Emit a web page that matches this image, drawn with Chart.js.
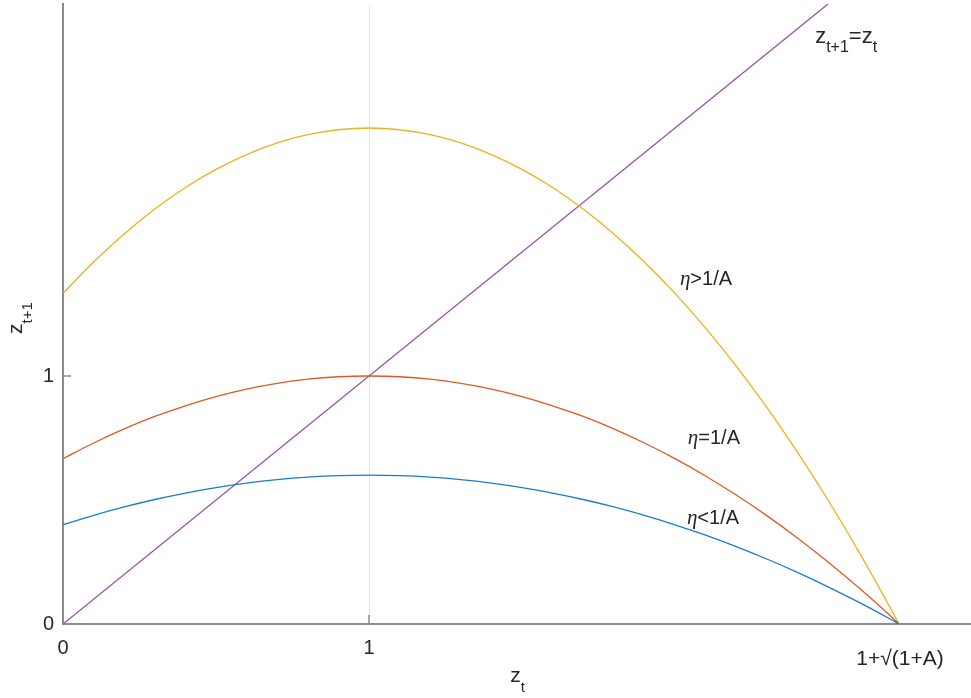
<!DOCTYPE html>
<html>
<head>
<meta charset="utf-8">
<script src="https://cdn.jsdelivr.net/npm/chart.js@4.4.1/dist/chart.umd.min.js"></script>
<style>
  html, body { margin: 0; padding: 0; background: #ffffff; }
  #wrap { width: 971px; height: 698px; position: relative; }
</style>
</head>
<body>
<div id="wrap"><canvas id="c" width="971" height="698"></canvas></div>
<script>
// ---- data ----
const zt = [0, 0.1, 0.2, 0.3, 0.4, 0.5, 0.6, 0.7, 0.8, 0.9, 1.0, 1.1, 1.2, 1.3, 1.4,
            1.5, 1.6, 1.7, 1.8, 1.9, 2.0, 2.1, 2.2, 2.3, 2.4, 2.5, 2.6, 2.7, 2.732];
const etaLess = [0.400, 0.438, 0.472, 0.502, 0.528, 0.550, 0.568, 0.582, 0.592, 0.598, 0.600,
                 0.598, 0.592, 0.582, 0.568, 0.550, 0.528, 0.502, 0.472, 0.438, 0.400,
                 0.358, 0.312, 0.262, 0.208, 0.150, 0.088, 0.022, 0];
const etaEqual = [0.667, 0.730, 0.787, 0.837, 0.880, 0.917, 0.947, 0.970, 0.987, 0.997, 1.000,
                  0.997, 0.987, 0.970, 0.947, 0.917, 0.880, 0.837, 0.787, 0.730, 0.667,
                  0.597, 0.520, 0.437, 0.347, 0.250, 0.147, 0.037, 0];
const etaGreater = [1.333, 1.460, 1.573, 1.673, 1.760, 1.833, 1.893, 1.940, 1.973, 1.993, 2.000,
                    1.993, 1.973, 1.940, 1.893, 1.833, 1.760, 1.673, 1.573, 1.460, 1.333,
                    1.193, 1.040, 0.873, 0.693, 0.500, 0.293, 0.073, 0];
const diagX = [0, 2.5];
const diagY = [0, 2.5];
const xTickValues = [0, 1, 2.732];
const xTickLabels = ['0', '1', '1+\u221A(1+A)'];
const yTickValues = [0, 1];
const yTickLabels = ['0', '1'];

// ---- styling ----
const TEXT = '#262626';
const AXIS = '#8c8c8c';
const FONT = '"Liberation Sans", Arial, Helvetica, sans-serif';

function pts(xs, ys) { return xs.map((x, i) => ({ x: x, y: ys[i] })); }

function lineDs(data, color) {
  return { data: data, borderColor: color, borderWidth: 1.3, pointRadius: 0,
           fill: false, cubicInterpolationMode: 'monotone' };
}

// rich text with subscripts
function drawRich(ctx, parts, x, y, align, mainSize, subSize, subDy) {
  const mainF = mainSize + 'px ' + FONT, subF = subSize + 'px ' + FONT;
  let w = 0;
  parts.forEach(p => { ctx.font = p.sub ? subF : (p.font || mainF); p.w = ctx.measureText(p.t).width; w += p.w; });
  let cx = align === 'center' ? x - w / 2 : x;
  ctx.textAlign = 'left';
  ctx.textBaseline = 'alphabetic';
  parts.forEach(p => {
    ctx.font = p.sub ? subF : (p.font || mainF);
    ctx.fillText(p.t, cx, p.sub ? y + subDy : y);
    cx += p.w;
  });
}

const annot = {
  id: 'annot',
  afterDraw(chart) {
    const ctx = chart.ctx, xs = chart.scales.x, ys = chart.scales.y, a = chart.chartArea;
    ctx.save();
    ctx.fillStyle = TEXT;
    // inward tick marks
    ctx.strokeStyle = AXIS; ctx.lineWidth = 1.5;
    ctx.beginPath();
    const px1 = xs.getPixelForValue(1);
    ctx.moveTo(px1, a.bottom); ctx.lineTo(px1, a.bottom - 9);
    const py1 = ys.getPixelForValue(1);
    ctx.moveTo(a.left, py1); ctx.lineTo(a.left + 8, py1);
    ctx.stroke();
    // special x tick label
    ctx.font = '21px ' + FONT;
    ctx.textAlign = 'center'; ctx.textBaseline = 'middle';
    ctx.fillText(xTickLabels[2], xs.getPixelForValue(xTickValues[2]) + 1, 659);
    // axis titles
    drawRich(ctx, [{ t: 'z' }, { t: 't', sub: true }], (a.left + a.right) / 2 + 1, 682, 'center', 21, 15, 10);
    ctx.save();
    ctx.translate(22, 318);
    ctx.rotate(-Math.PI / 2);
    drawRich(ctx, [{ t: 'z' }, { t: 't+1', sub: true }], 0, 0, 'center', 21, 15, 10);
    ctx.restore();
    // curve annotations
    drawRich(ctx, [{ t: 'z' }, { t: 't+1', sub: true }, { t: '=z' }, { t: 't', sub: true }],
             xs.getPixelForValue(2.458), ys.getPixelForValue(2.343), 'left', 22, 16, 9);
    const eta = 'italic 21px "Liberation Serif", serif';
    const labels = [
      { s: '>1/A', x: 2.016, y: 1.395 },
      { s: '=1/A', x: 2.042, y: 0.754 },
      { s: '<1/A', x: 2.039, y: 0.431 }
    ];
    labels.forEach(l => {
      drawRich(ctx, [{ t: '\u03B7', font: eta }, { t: l.s }],
               xs.getPixelForValue(l.x), ys.getPixelForValue(l.y) + 7, 'left', 20, 14, 9);
    });
    ctx.restore();
  }
};

new Chart(document.getElementById('c'), {
  type: 'line',
  data: {
    datasets: [
      lineDs(pts(zt, etaLess), '#1a7ccb'),
      lineDs(pts(zt, etaEqual), '#dd5a25'),
      lineDs(pts(zt, etaGreater), '#EDB120'),
      lineDs(pts(diagX, diagY), '#9650ac')
    ]
  },
  options: {
    responsive: false,
    animation: false,
    events: [],
    layout: { padding: { top: 4, right: 1, left: 0, bottom: 0 } },
    plugins: { legend: { display: false }, tooltip: { enabled: false } },
    scales: {
      x: {
        type: 'linear', min: 0, max: 2.964,
        afterBuildTicks: s => { s.ticks = xTickValues.map(v => ({ value: v })); },
        afterFit: s => { s.height = 74; s.paddingLeft = 0; s.paddingRight = 0; },
        ticks: {
          autoSkip: false, maxRotation: 0, padding: 12, color: TEXT,
          font: { family: FONT, size: 20 },
          callback: (v, i) => (i < 2 ? xTickLabels[i] : '')
        },
        grid: { drawTicks: false, lineWidth: 1,
                color: c => (c.tick && c.tick.value === 1 ? '#e6e6e6' : 'rgba(0,0,0,0)') },
        border: { display: true, color: AXIS, width: 2 }
      },
      y: {
        type: 'linear', min: 0, max: 2.5,
        afterBuildTicks: s => { s.ticks = yTickValues.map(v => ({ value: v })); },
        afterFit: s => { s.width = 63; s.paddingTop = 0; s.paddingBottom = 0; },
        ticks: {
          autoSkip: false, padding: 9, color: TEXT,
          font: { family: FONT, size: 20 },
          callback: (v, i) => yTickLabels[i]
        },
        grid: { display: false, drawTicks: false },
        border: { display: true, color: AXIS, width: 2 }
      }
    }
  },
  plugins: [annot]
});
</script>
</body>
</html>
